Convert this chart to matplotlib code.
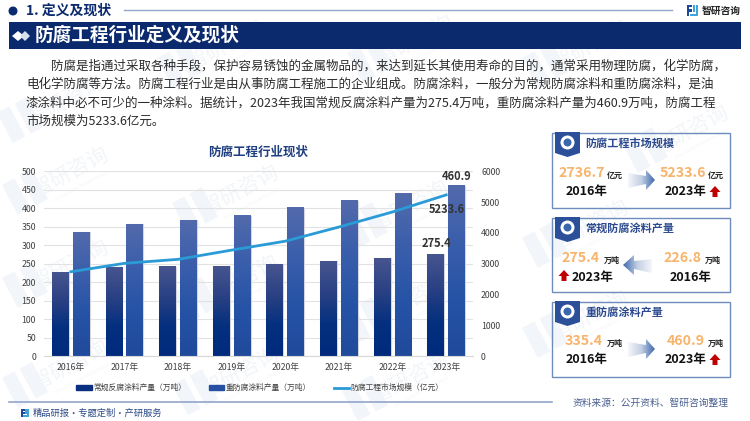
import numpy as np
import matplotlib
matplotlib.use('Agg')
import matplotlib.pyplot as plt
from matplotlib.patches import Polygon, Rectangle, Circle
from matplotlib.lines import Line2D
from matplotlib.colors import LinearSegmentedColormap
from matplotlib.transforms import Affine2D

plt.rcParams['font.family'] = ['Noto Sans CJK SC', 'DejaVu Sans']

years = ['2016年', '2017年', '2018年', '2019年', '2020年', '2021年', '2022年', '2023年']
normal_coat = [226.8, 240, 242, 243, 249, 256, 265, 275.4]
heavy_coat = [335.4, 356, 367, 380, 401, 420, 440, 460.9]
market = [2736.7, 3010, 3140, 3440, 3730, 4190, 4680, 5233.6]
left_ticks = [0, 50, 100, 150, 200, 250, 300, 350, 400, 450, 500]
right_ticks = [0, 1000, 2000, 3000, 4000, 5000, 6000]
legend_names = ['常规反腐涂料产量\uff08万吨\uff09', '重防腐涂料产量\uff08万吨\uff09', '防腐工程市场规模\uff08亿元\uff09']

body_lines = [
    '防腐是指通过采取各种手段\uff0c保护容易锈蚀的金属物品的\uff0c来达到延长其使用寿命的目的\uff0c通常采用物理防腐\uff0c化学防腐\uff0c',
    '电化学防腐等方法。防腐工程行业是由从事防腐工程施工的企业组成。防腐涂料\uff0c一般分为常规防腐涂料和重防腐涂料\uff0c是油',
    '漆涂料中必不可少的一种涂料。据统计\uff0c2023年我国常规反腐涂料产量为275.4万吨\uff0c重防腐涂料产量为460.9万吨\uff0c防腐工程',
    '市场规模为5233.6亿元。',
]

NAVY = '#0b2a6e'
ORANGE = '#f8b46c'
WM = '#f2f5f9'

fig = plt.figure(figsize=(7.5, 4.21), dpi=100)

# page layer in pixel coordinates
bg = fig.add_axes([0, 0, 1, 1], zorder=0)
bg.set_xlim(0, 750)
bg.set_ylim(421, 0)
bg.axis('off')


def draw_logo(a, x, y, s, c1, c2, z=1):
    # two bracket shapes, top left corner at x,y
    a.add_patch(Polygon([(x, y), (x + .45 * s, y), (x + .45 * s, y + .2 * s), (x + .2 * s, y + .2 * s),
                         (x + .2 * s, y + .4 * s), (x + .45 * s, y + .4 * s), (x + .45 * s, y + .6 * s),
                         (x + .2 * s, y + .6 * s), (x + .2 * s, y + s), (x, y + s)], color=c1, lw=0, zorder=z))
    a.add_patch(Polygon([(x + s, y), (x + .8 * s, y), (x + .8 * s, y + .8 * s), (x + .3 * s, y + .8 * s),
                         (x + .3 * s, y + s), (x + s, y + s)], color=c2, lw=0, zorder=z))
    a.add_patch(Rectangle((x + .55 * s, y), .15 * s, .6 * s, color=c2, lw=0, zorder=z))


# watermark
for wx, wy in [(70, 172), (240, 190), (415, 40), (590, 45), (70, 265), (240, 280), (410, 205), (590, 225),
               (70, 365), (240, 372), (410, 300), (590, 315), (225, 45), (410, 378), (65, 100), (690, 130)]:
    bg.text(wx, wy, '智研咨询', fontsize=15, color=WM, rotation=28, ha='center', va='center', zorder=0.5)
    bg.text(wx + 12, wy + 14, 'INTELLIGENCE RESEARCH GROUP', fontsize=2.8, color=WM, rotation=28,
            ha='center', va='center', zorder=0.5)
    tr = Affine2D().rotate_deg_around(wx - 45, wy + 20, -28) + bg.transData
    for p in [Rectangle((wx - 62, wy + 3), 14, 34, color=WM, lw=0, zorder=0.5),
              Rectangle((wx - 42, wy + 3), 14, 34, color=WM, lw=0, zorder=0.5)]:
        p.set_transform(tr)
        bg.add_patch(p)

# header
bg.add_patch(Circle((13, 11), 3.8, color=NAVY, zorder=2))
bg.text(26, 11, '1. 定义及现状', fontsize=10, fontweight='bold', color=NAVY, va='center', zorder=2)
bg.plot([124, 672], [10, 10], color='#93a5cb', lw=1, zorder=2)
draw_logo(bg, 687, 5, 11, '#1e4a9c', '#3fa3dc', z=2)
bg.text(702, 10.5, '智研咨询', fontsize=7, fontweight='bold', color='#222222', va='center', zorder=2)
bg.add_patch(Rectangle((9, 22), 732, 26.5, color=NAVY, lw=0, zorder=2))
bg.add_patch(Polygon([(12, 36), (18, 31), (24, 36), (18, 41)], color='white', lw=0, zorder=3))
bg.add_patch(Polygon([(20, 36), (25, 31), (30, 36), (25, 41)], color='#d8dfec', lw=0, zorder=3))
bg.text(35, 35.5, '防腐工程行业定义及现状', fontsize=13.4, fontweight='bold', color='white', va='center', zorder=3)

# paragraph
for i, line in enumerate(body_lines):
    bg.text(51 if i == 0 else 26, 66 + i * 18.4, line, fontsize=9, color='#2b2b2b', va='center', zorder=2)

bg.text(258, 152, '防腐工程行业现状', fontsize=9, fontweight='bold', color='#1f3f80', ha='center', va='center', zorder=2)

# footer
bg.plot([9, 552], [402, 402], color='#93a5cb', lw=1.2, zorder=2)
draw_logo(bg, 21, 409, 8, '#1e4a9c', '#3fa3dc', z=2)
bg.text(33, 413.5, '精品研报·专题定制·产研服务', fontsize=6.7, color='#2c4a86', va='center', zorder=2)
bg.text(573, 402.5, '资料来源\uff1a公开资料、智研咨询整理', fontsize=7, color='#4a6090', va='center', zorder=2)

# chart
ax = fig.add_axes([44 / 750, 1 - 356 / 421, 429 / 750, 184.7 / 421], zorder=2)
ax.patch.set_alpha(0)
x = np.arange(len(years))
bar_w = 0.315
off = 0.195
cm_left = LinearSegmentedColormap.from_list('l', ['#012a7c', '#04307f', '#2a4184', '#47558f'])
cm_right = LinearSegmentedColormap.from_list('r', ['#204a9c', '#2653a6', '#3a5eab', '#526aac'])
grad = np.linspace(0, 1, 128).reshape(-1, 1)

for xs, vals, cm in [(x - off, normal_coat, cm_left), (x + off, heavy_coat, cm_right)]:
    bars = ax.bar(xs, vals, bar_w, color='none', edgecolor='#d4d7de', linewidth=0.8, zorder=2.4)
    for b in bars:
        bx, bh = b.get_x(), b.get_height()
        ax.imshow(grad, extent=(bx, bx + bar_w, 0, bh), origin='lower', aspect='auto', cmap=cm, zorder=2.5)

ax.set_xlim(-0.5, len(years) - 0.5)
ax.set_ylim(0, 500)
ax.set_yticks(left_ticks)
ax.set_xticks(x)
ax.set_xticklabels(years)
ax.grid(axis='y', color='#e2e2e2', lw=0.8, zorder=0)
ax.set_axisbelow(True)
ax.tick_params(length=0, labelsize=6.3, labelcolor='#404040', pad=5.8)
ax.tick_params(axis='x', pad=5)
for s in ax.spines.values():
    s.set_visible(False)
ax.spines['bottom'].set_visible(True)
ax.spines['bottom'].set_color('#d8d8d8')

ax2 = ax.twinx()
ax2.patch.set_alpha(0)
ax2.plot(x, market, color='#2a9bd6', lw=2, zorder=5)
ax2.set_ylim(0, 6000)
ax2.set_yticks(right_ticks)
ax2.tick_params(length=0, labelsize=6.3, labelcolor='#404040', pad=5.8)
for s in ax2.spines.values():
    s.set_visible(False)

# data labels for last year
lab = dict(fontsize=8, fontweight='bold', color='#333333', ha='center', va='center', textcoords='offset pixels')
ax.annotate(f'{heavy_coat[-1]}', (x[-1] + off, heavy_coat[-1]), xytext=(0, 9), zorder=6, **lab)
ax.annotate(f'{normal_coat[-1]}', (x[-1] - off, normal_coat[-1]), xytext=(1, 11), zorder=6, **lab)
ax2.annotate(f'{market[-1]}', (x[-1], market[-1]), xytext=(1, -15), zorder=6, **lab)

handles = [Rectangle((0, 0), 1, 1, color='#0a2f80'), Rectangle((0, 0), 1, 1, color='#2650a2'),
           Line2D([0], [0], color='#2a9bd6', lw=2)]
fig.legend(handles, legend_names, ncol=3, frameon=False, fontsize=5.6, labelcolor='#404040',
           loc='center', bbox_to_anchor=(260 / 750, 1 - 388 / 421), handlelength=2, handleheight=0.5,
           handletextpad=0.2, columnspacing=2.9, borderpad=0, borderaxespad=0)

# right side cards, overlay layer
fg = fig.add_axes([0, 0, 1, 1], zorder=3)
fg.set_xlim(0, 750)
fg.set_ylim(421, 0)
fg.axis('off')
fg.patch.set_alpha(0)

arrow_cm = LinearSegmentedColormap.from_list('a', ['#f4f6fa', '#c3cfe4', '#3f68ad'])


def grad_arrow(x0, x1, yc, left=False):
    if left:
        pts = [(x1, yc - 6), (x0 + 11, yc - 4), (x0 + 11, yc - 10), (x0, yc), (x0 + 11, yc + 10), (x0 + 11, yc + 4), (x1, yc + 8)]
        g = np.linspace(1, 0, 64).reshape(1, -1)
    else:
        pts = [(x0, yc - 7), (x1 - 9, yc - 4), (x1 - 9, yc - 10), (x1, yc), (x1 - 9, yc + 10), (x1 - 9, yc + 4), (x0, yc + 8)]
        g = np.linspace(0, 1, 64).reshape(1, -1)
    im = fg.imshow(g, extent=(x0, x1, yc + 12, yc - 12), aspect='auto', cmap=arrow_cm, zorder=4)
    poly = Polygon(pts, transform=fg.transData, fc='none', lw=0)
    fg.add_patch(poly)
    im.set_clip_path(poly)


def red_up(xc, yc):
    fg.add_patch(Polygon([(xc, yc - 6), (xc + 5.5, yc), (xc + 2.5, yc), (xc + 2.5, yc + 5), (xc - 2.5, yc + 5),
                          (xc - 2.5, yc), (xc - 5.5, yc)], color='#c00000', lw=0, zorder=4))


def card(top, bottom, title):
    fg.add_patch(Rectangle((552, top), 178, bottom - top, fc='none', ec='#6f8cbf', lw=1, zorder=2))
    fg.add_patch(Polygon([(555, top - 1), (580, top - 1), (580, top + 20), (567.5, top + 24), (555, top + 20)],
                         color='#2b4f98', lw=0, zorder=3))
    fg.add_patch(Circle((567.5, top + 9.5), 7, fc='white', ec='none', zorder=4))
    fg.add_patch(Circle((567.5, top + 9.5), 4, fc='#3b67ad', ec='none', zorder=5))
    fg.text(585, top + 10.5, title, fontsize=8, fontweight='bold', color='#2b4a8f', va='center', zorder=4)


def val(xv, yv, s, unit, xu):
    fg.text(xv, yv, s, fontsize=10.2, fontweight='bold', color=ORANGE, ha='left', va='center', zorder=4)
    fg.text(xu, yv + 2, unit, fontsize=5.8, fontweight='bold', color='#222222', ha='left', va='center', zorder=4)


def yr(xv, yv, s):
    fg.text(xv, yv, s, fontsize=9, fontweight='bold', color='#111111', ha='left', va='center', zorder=4)


card(133, 208, '防腐工程市场规模')
val(558, 173, '2736.7', '亿元', 607)
val(660, 173, '5233.6', '亿元', 708)
yr(566, 192, '2016年')
yr(665, 192, '2023年')
red_up(715, 192)
grad_arrow(628, 655, 180)

card(218, 292, '常规防腐涂料产量')
val(561, 258, '275.4', '万吨', 604)
val(663, 258, '226.8', '万吨', 705)
yr(572, 277, '2023年')
yr(670, 277, '2016年')
red_up(564, 276)
grad_arrow(623, 652, 265, left=True)

card(302, 377, '重防腐涂料产量')
val(565, 341, '335.4', '万吨', 607)
val(667, 341, '460.9', '万吨', 708)
yr(566, 359, '2016年')
yr(665, 359, '2023年')
red_up(715, 360)
grad_arrow(628, 655, 349)
fg.set_xlim(0, 750)
fg.set_ylim(421, 0)

fig.savefig('out.png', dpi=100)
